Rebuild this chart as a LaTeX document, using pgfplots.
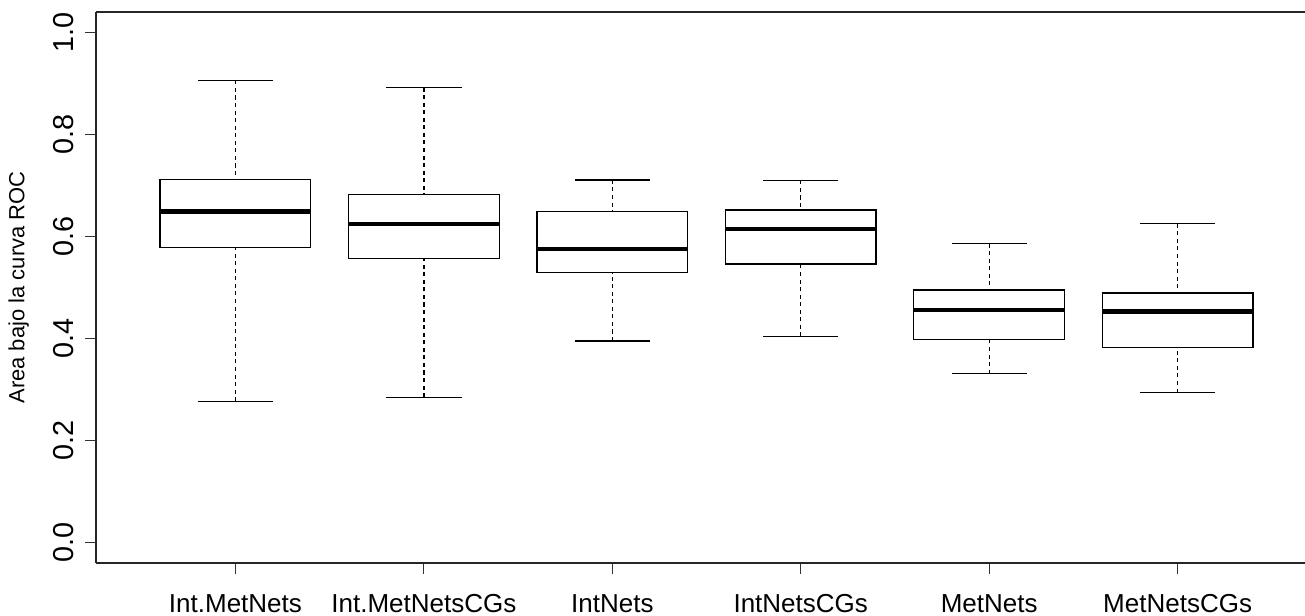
\documentclass[border=0pt]{standalone}
\usepackage{fontspec}
\setmainfont{Liberation Sans}
\usepackage{pgfplots}
\pgfplotsset{compat=1.18}
\usepgfplotslibrary{statistics}

% R-style boxplot pieces: dashed whiskers with solid caps, heavy median
\pgfplotsset{
  boxplot/draw/lower whisker/.code={%
    \draw[black, line width=0.75pt, dash pattern=on 2.3pt off 2.0pt]
      (boxplot cs:\pgfplotsboxplotvalue{lower whisker}) --
      (boxplot cs:\pgfplotsboxplotvalue{lower quartile});
    \draw[black, line width=0.75pt]
      (boxplot whisker cs:\pgfplotsboxplotvalue{lower whisker},0) --
      (boxplot whisker cs:\pgfplotsboxplotvalue{lower whisker},1);
  },
  boxplot/draw/upper whisker/.code={%
    \draw[black, line width=0.75pt, dash pattern=on 2.3pt off 2.0pt]
      (boxplot cs:\pgfplotsboxplotvalue{upper whisker}) --
      (boxplot cs:\pgfplotsboxplotvalue{upper quartile});
    \draw[black, line width=0.75pt]
      (boxplot whisker cs:\pgfplotsboxplotvalue{upper whisker},0) --
      (boxplot whisker cs:\pgfplotsboxplotvalue{upper whisker},1);
  },
  boxplot/every median/.style={line width=2.5pt, black},
  boxplot/every box/.style={draw=black, line width=0.75pt, fill=white},
}

\begin{document}
\begin{tikzpicture}
\begin{axis}[
  scale only axis,
  width=24.18cm, height=11.02cm,
  xmin=0.26, xmax=6.676,
  ymin=-0.04, ymax=1.04,
  axis x line*=bottom,
  axis y line*=left,
  axis line style={black!85, line width=0.9pt},
  tick align=outside,
  major tick length=0.22cm,
  tick style={black!80, line width=0.6pt},
  xtick={1,2,3,4,5,6},
  xticklabels={Int.MetNets, Int.MetNetsCGs, IntNets, IntNetsCGs, MetNets, MetNetsCGs},
  ytick={0,0.2,0.4,0.6,0.8,1},
  yticklabels={0.0,0.2,0.4,0.6,0.8,1.0},
  xticklabel style={yshift=-0.28cm, font=\fontsize{14.8}{16}\selectfont},
  yticklabel style={xshift=-0.1cm, rotate=90, anchor=south, font=\fontsize{16.4}{18}\selectfont},
  every axis y label/.style={at={(axis description cs:-0.064,0.5)}, rotate=90, anchor=center,
    font=\fontsize{12.5}{14}\selectfont},
  ylabel={Area bajo la curva ROC},
  boxplot/draw direction=y,
  boxplot/box extend=0.8,
  boxplot/whisker extend=0.4,
  clip=false,
]
% lower whisker, Q1, median, Q3, upper whisker of each group
\addplot[black, boxplot prepared={draw position=1,
  lower whisker=0.277, lower quartile=0.578, median=0.649,
  upper quartile=0.712, upper whisker=0.906}] coordinates {};
\addplot[black, boxplot prepared={draw position=2,
  lower whisker=0.285, lower quartile=0.557, median=0.624,
  upper quartile=0.682, upper whisker=0.892}] coordinates {};
\addplot[black, boxplot prepared={draw position=3,
  lower whisker=0.395, lower quartile=0.529, median=0.576,
  upper quartile=0.649, upper whisker=0.711}] coordinates {};
\addplot[black, boxplot prepared={draw position=4,
  lower whisker=0.404, lower quartile=0.546, median=0.615,
  upper quartile=0.652, upper whisker=0.710}] coordinates {};
\addplot[black, boxplot prepared={draw position=5,
  lower whisker=0.331, lower quartile=0.398, median=0.456,
  upper quartile=0.495, upper whisker=0.586}] coordinates {};
\addplot[black, boxplot prepared={draw position=6,
  lower whisker=0.294, lower quartile=0.382, median=0.453,
  upper quartile=0.489, upper whisker=0.625}] coordinates {};
% top edge of the frame
\draw[black!85, line width=0.9pt] (rel axis cs:0,1) -- (rel axis cs:1,1);
\coordinate (ll) at (rel axis cs:0,0);
\coordinate (ur) at (rel axis cs:1,1);
\end{axis}
\pgfresetboundingbox
\path[use as bounding box] ([xshift=-1.92cm,yshift=-1.06cm]ll) rectangle ([yshift=0.24cm]ur);
\end{tikzpicture}
\end{document}
